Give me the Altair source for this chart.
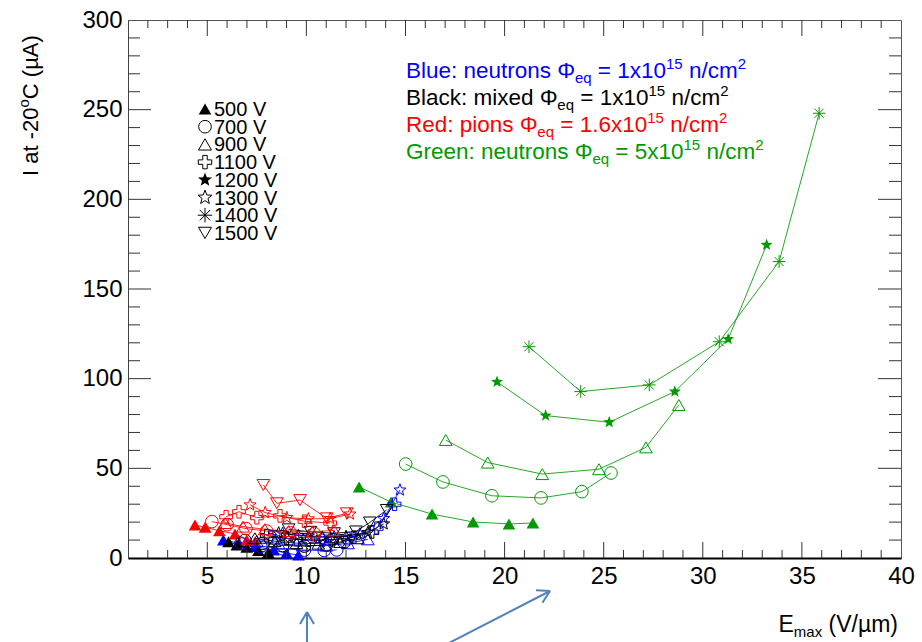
import math
import altair as alt
import pandas as pd

# ---------------------------------------------------------------------------
# Leakage current at -20 C (uA) versus maximum field E_max (V/um)
# one list pair per fluence group and bias voltage
# ---------------------------------------------------------------------------
blue_500_e = [5.81, 6.6, 7.4, 8.34, 9.0, 9.6]
blue_500_i = [10.0, 8.3, 6.4, 4.5, 2.6, 1.7]
blue_700_e = [6.7, 7.7, 8.8, 9.9, 10.9, 11.53]
blue_700_i = [8.2, 6.6, 5.2, 4.4, 4.2, 4.5]
blue_900_e = [7.5, 8.6, 9.8, 11.0, 12.1, 13.1]
blue_900_i = [9.5, 8.0, 7.0, 6.9, 8.2, 10.4]
blue_1100_e = [8.2, 9.5, 10.8, 12.1, 13.55, 14.45]
blue_1100_i = [11.8, 10.3, 9.8, 10.8, 16.6, 30.0]
blue_1300_e = [8.8, 10.1, 11.4, 12.7, 13.9, 14.72]
blue_1300_i = [13.8, 12.3, 11.8, 13.4, 22.0, 37.9]

black_500_e = [6.07, 6.49, 6.99, 7.58, 8.08]
black_500_i = [9.1, 7.3, 6.0, 4.1, 3.0]
black_700_e = [6.9, 7.8, 8.8, 9.9, 11.0, 11.9]
black_700_i = [9.8, 8.2, 7.0, 6.6, 7.2, 8.8]
black_900_e = [7.4, 8.4, 9.5, 10.6, 11.7, 12.6]
black_900_i = [11.0, 9.4, 8.3, 8.0, 8.9, 11.0]
black_1100_e = [8.0, 9.0, 10.1, 11.3, 12.4, 13.3]
black_1100_i = [12.5, 11.0, 10.0, 10.2, 11.6, 14.5]
black_1300_e = [8.6, 9.6, 10.8, 12.0, 13.1, 13.9]
black_1300_i = [14.0, 12.5, 11.6, 12.0, 14.2, 19.0]
black_1500_e = [9.1, 10.2, 11.4, 12.5, 13.2, 14.05]
black_1500_i = [16.0, 14.6, 13.8, 14.8, 19.8, 26.8]

red_500_e = [4.38, 4.89, 5.61, 6.40, 6.99, 7.41]
red_500_i = [18.4, 17.1, 15.2, 13.4, 10.0, 9.1]
red_700_e = [5.23, 6.0, 6.95, 8.0, 9.2, 10.4]
red_700_i = [20.3, 18.6, 16.4, 15.0, 14.0, 13.6]
red_900_e = [5.9, 6.8, 7.9, 9.1, 10.3, 11.4]
red_900_i = [19.5, 17.5, 16.0, 15.0, 14.6, 15.4]
red_1100_e = [5.95, 6.6, 7.5, 8.67, 9.9, 11.2]
red_1100_i = [23.0, 25.8, 22.5, 23.5, 20.5, 19.5]
red_1300_e = [7.16, 7.92, 9.01, 10.1, 11.2, 12.2]
red_1300_i = [29.6, 25.3, 22.5, 21.8, 22.0, 24.5]
red_1500_e = [7.83, 8.51, 9.68, 11.03, 12.04]
red_1500_i = [40.7, 30.5, 32.3, 22.1, 24.9]

green_500_e = [12.66, 14.27, 16.34, 18.41, 20.22, 21.43]
green_500_i = [39.6, 31.2, 24.5, 20.1, 19.0, 19.5]
green_700_e = [15.01, 16.89, 19.36, 21.84, 23.90, 25.37]
green_700_i = [52.4, 42.4, 34.7, 33.5, 37.0, 47.4]
green_900_e = [17.03, 19.15, 21.90, 24.76, 27.13, 28.79]
green_900_i = [65.8, 53.2, 46.8, 49.5, 61.7, 85.3]
green_1200_e = [19.62, 22.07, 25.28, 28.59, 31.28, 33.22]
green_1200_i = [98.2, 79.4, 75.7, 92.8, 122.0, 174.6]
green_1400_e = [21.23, 23.84, 27.30, 30.83, 33.85, 35.87]
green_1400_i = [117.8, 92.8, 96.5, 120.6, 165.3, 248.0]

SERIES = [
    ("Blue", "500 V", blue_500_e, blue_500_i),
    ("Blue", "700 V", blue_700_e, blue_700_i),
    ("Blue", "900 V", blue_900_e, blue_900_i),
    ("Blue", "1100 V", blue_1100_e, blue_1100_i),
    ("Blue", "1300 V", blue_1300_e, blue_1300_i),
    ("Black", "500 V", black_500_e, black_500_i),
    ("Black", "700 V", black_700_e, black_700_i),
    ("Black", "900 V", black_900_e, black_900_i),
    ("Black", "1100 V", black_1100_e, black_1100_i),
    ("Black", "1300 V", black_1300_e, black_1300_i),
    ("Black", "1500 V", black_1500_e, black_1500_i),
    ("Red", "500 V", red_500_e, red_500_i),
    ("Red", "700 V", red_700_e, red_700_i),
    ("Red", "900 V", red_900_e, red_900_i),
    ("Red", "1100 V", red_1100_e, red_1100_i),
    ("Red", "1300 V", red_1300_e, red_1300_i),
    ("Red", "1500 V", red_1500_e, red_1500_i),
    ("Green", "500 V", green_500_e, green_500_i),
    ("Green", "700 V", green_700_e, green_700_i),
    ("Green", "900 V", green_900_e, green_900_i),
    ("Green", "1200 V", green_1200_e, green_1200_i),
    ("Green", "1400 V", green_1400_e, green_1400_i),
]

GROUPS = ["Blue", "Black", "Red", "Green"]
GROUP_COLORS = ["#0000ff", "#000000", "#ff0000", "#009900"]

VOLTS = ["500 V", "700 V", "900 V", "1100 V", "1200 V", "1300 V", "1400 V", "1500 V"]
FILLED_VOLTS = {"500 V", "1200 V"}

X_LABELS = [5, 10, 15, 20, 25, 30, 35, 40]
Y_LABELS = [0, 50, 100, 150, 200, 250, 300]
X_MAJOR = [5, 10, 15, 20, 25, 30, 35]
X_MINOR = [v for v in range(2, 40) if v % 5 != 0]
Y_MAJOR = [50, 100, 150, 200, 250]
Y_MINOR = [v for v in range(10, 300, 10) if v % 50 != 0]

FLUENCE_LINES = [
    ("#0000ff", [("Blue: neutrons Φ", "n"), ("eq", "sub"), (" = 1x10", "n"),
                 ("15", "sup"), (" n/cm", "n"), ("2", "sup")]),
    ("#000000", [("Black: mixed Φ", "n"), ("eq", "sub"), (" = 1x10", "n"),
                 ("15", "sup"), (" n/cm", "n"), ("2", "sup")]),
    ("#ff0000", [("Red: pions Φ", "n"), ("eq", "sub"), (" = 1.6x10", "n"),
                 ("15", "sup"), (" n/cm", "n"), ("2", "sup")]),
    ("#009900", [("Green: neutrons Φ", "n"), ("eq", "sub"), (" = 5x10", "n"),
                 ("15", "sup"), (" n/cm", "n"), ("2", "sup")]),
]
X_TITLE = [("E", "n"), ("max", "sub"), (" (V/µm)", "n")]
Y_TITLE = [("I at -20", "n"), ("o", "sup"), ("C (µA)", "n")]

# ---------------------------------------------------------------------------
FONT = "Liberation Sans"
W, H = 773, 538


def star_path(inner=0.42):
    pts = []
    for k in range(10):
        a = math.radians(-90 + 36 * k)
        r = 1.0 if k % 2 == 0 else inner
        pts.append(f"{r * math.cos(a):.3f},{r * math.sin(a):.3f}")
    return "M" + "L".join(pts) + "Z"


STAR = star_path()
ASTERISK = "M-1,0L1,0M0,-1L0,1M-0.72,-0.72L0.72,0.72M-0.72,0.72L0.72,-0.72"
PLUS = ("M-0.33,-1L0.33,-1L0.33,-0.33L1,-0.33L1,0.33L0.33,0.33L0.33,1L-0.33,1"
        "L-0.33,0.33L-1,0.33L-1,-0.33L-0.33,-0.33Z")
SHAPES = ["triangle-up", "circle", "triangle-up", PLUS, STAR, STAR, ASTERISK, "triangle-down"]
SIZES = [160, 160, 170, 180, 220, 220, 210, 170]

# Arial / Liberation Sans advance widths (per 1000 em)
ADV = {" ": 278, ":": 278, "=": 584, ".": 278, "/": 278, "(": 333, ")": 333, "-": 333,
       "A": 667, "B": 667, "C": 722, "E": 667, "G": 778, "I": 278, "R": 722, "V": 667,
       "a": 556, "c": 500, "d": 556, "e": 556, "i": 222, "k": 500, "l": 222, "m": 833,
       "n": 556, "o": 556, "p": 556, "q": 556, "r": 333, "s": 500, "t": 278, "u": 556,
       "x": 500, "Φ": 780, "µ": 576}


def text_width(s, size):
    return sum(ADV.get(ch, 556) for ch in s) * size / 1000.0


ONE = alt.Data(values=[{"k": 0}])


def text_layer(txt, x, y, size, color, angle=None, align="left", baseline="alphabetic"):
    kw = dict(text=txt, font=FONT, fontSize=size, color=color, align=align, baseline=baseline)
    if angle is not None:
        kw["angle"] = angle
    return alt.Chart(ONE).mark_text(**kw).encode(x=alt.value(x), y=alt.value(y))


def rich_text(parts, x0, y0, size, small, color, vertical=False):
    out = []
    pos = 0.0
    for txt, kind in parts:
        fs = size if kind == "n" else small
        shift = 0 if kind == "n" else (5 if kind == "sub" else -9)
        lead = len(txt) - len(txt.lstrip(" "))
        body = txt.strip(" ")
        start = pos + text_width(" " * lead, fs)
        if vertical:
            out.append(text_layer(body, x0 + shift, y0 - start, fs, color, angle=270))
        else:
            out.append(text_layer(body, x0 + start, y0 + shift, fs, color))
        pos += text_width(txt, fs)
    return out


def rich_width(parts, size, small):
    return sum(text_width(t, size if k == "n" else small) for t, k in parts)


# ---------------------------------------------------------------------------
rows = []
for grp, volt, es, cur in SERIES:
    for j, (e, c) in enumerate(zip(es, cur)):
        rows.append({"group": grp, "volt": volt, "sid": f"{grp} {volt}", "idx": j,
                     "e": e, "i": c, "filled": volt in FILLED_VOLTS})
df = pd.DataFrame(rows)

xs = alt.Scale(domain=[1, 40], nice=False, zero=False)
ys = alt.Scale(domain=[0, 300], nice=False, zero=False)
X_AXIS = alt.Axis(values=X_LABELS, title=None, ticks=False, grid=False, domain=True,
                  domainColor="#000000", domainWidth=2, labelFont=FONT, labelFontSize=24,
                  labelColor="#000000", labelPadding=6, labelFlush=False, labelOverlap=False)
Y_AXIS = alt.Axis(values=Y_LABELS, title=None, ticks=False, grid=False, domain=True,
                  domainColor="#444444", domainWidth=1, labelFont=FONT, labelFontSize=24,
                  labelColor="#000000", labelPadding=6, labelFlush=False, labelOverlap=False)

color = alt.Color("group:N", scale=alt.Scale(domain=GROUPS, range=GROUP_COLORS), legend=None)
shape = alt.Shape("volt:N", scale=alt.Scale(domain=VOLTS, range=SHAPES), legend=None)
size = alt.Size("volt:N", scale=alt.Scale(domain=VOLTS, range=SIZES), legend=None)

base = alt.Chart(df).encode(
    x=alt.X("e:Q", scale=xs, axis=X_AXIS),
    y=alt.Y("i:Q", scale=ys, axis=Y_AXIS),
)
lines = base.mark_line(strokeWidth=1, opacity=0.85).encode(
    color=color, detail="sid:N", order="idx:Q")
filled_pts = alt.Chart(df[df["filled"]]).mark_point(filled=True, opacity=1).encode(
    x=alt.X("e:Q", scale=xs, axis=X_AXIS), y=alt.Y("i:Q", scale=ys, axis=Y_AXIS),
    color=color, shape=shape, size=size)
open_pts = alt.Chart(df[~df["filled"]]).mark_point(filled=False, opacity=1, strokeWidth=1).encode(
    x=alt.X("e:Q", scale=xs, axis=X_AXIS), y=alt.Y("i:Q", scale=ys, axis=Y_AXIS),
    color=color, shape=shape, size=size)

# inward ticks on all four sides of the frame
TICK = "#333333"


def xticks(vals, y0, y1):
    return alt.Chart(pd.DataFrame({"v": vals})).mark_rule(color=TICK, strokeWidth=1).encode(
        x=alt.X("v:Q", scale=xs, axis=X_AXIS), y=alt.value(y0), y2=alt.value(y1))


def yticks(vals, x0, x1):
    return alt.Chart(pd.DataFrame({"v": vals})).mark_rule(color=TICK, strokeWidth=1).encode(
        y=alt.Y("v:Q", scale=ys, axis=Y_AXIS), x=alt.value(x0), x2=alt.value(x1))


ticks = [
    xticks(X_MAJOR, H, H - 16), xticks(X_MINOR, H, H - 8),
    xticks(X_MAJOR, 0, 16), xticks(X_MINOR, 0, 8),
    yticks(Y_MAJOR, 0, 23), yticks(Y_MINOR, 0, 12),
    yticks(Y_MAJOR, W, W - 23), yticks(Y_MINOR, W, W - 12),
]

# fluence legend
texts = []
for n, (col, parts) in enumerate(FLUENCE_LINES):
    texts += rich_text(parts, 278, 58 + 27 * n, 22.5, 15, col)

# voltage legend
for n, (v, shp) in enumerate(zip(VOLTS, SHAPES)):
    yy = 89 + 17.7 * n
    texts.append(alt.Chart(ONE).mark_point(
        shape=shp, filled=v in FILLED_VOLTS, size=SIZES[n], color="#000000",
        opacity=1, strokeWidth=1).encode(x=alt.value(77), y=alt.value(yy)))
    texts.append(text_layer(v, 86, yy + 1, 20, "#000000", baseline="middle"))

# axis titles
xw = rich_width(X_TITLE, 23, 15)
texts += rich_text(X_TITLE, 770 - xw, 612, 23, 15, "#000000")
texts += rich_text(Y_TITLE, -90, 156, 22, 15, "#000000", vertical=True)

# blue pointer arrows below the axis
ARROW = "#4f81bd"


def arrow(x0, y0, x1, y1, head=14):
    ang = math.atan2(y1 - y0, x1 - x0)
    segs = [(x0, y0, x1, y1)]
    for d in (math.radians(150), math.radians(-150)):
        segs.append((x1, y1, x1 + head * math.cos(ang + d), y1 + head * math.sin(ang + d)))
    return [alt.Chart(ONE).mark_rule(color=ARROW, strokeWidth=2).encode(
        x=alt.value(a), y=alt.value(b), x2=alt.value(c), y2=alt.value(d))
        for a, b, c, d in segs]


arrows = arrow(179, 624, 179, 592) + arrow(319, 624, 422, 571)

chart = alt.layer(lines, filled_pts, open_pts, *ticks, *texts, *arrows).properties(
    width=W, height=H,
    padding={"left": 128, "top": 20, "right": 21, "bottom": 84},
    autosize=alt.AutoSizeParams(type="none"),
    background="white",
).configure_view(stroke="#555555", strokeWidth=1)

chart.save("out.html", embed_options={"renderer": "svg", "actions": False})
